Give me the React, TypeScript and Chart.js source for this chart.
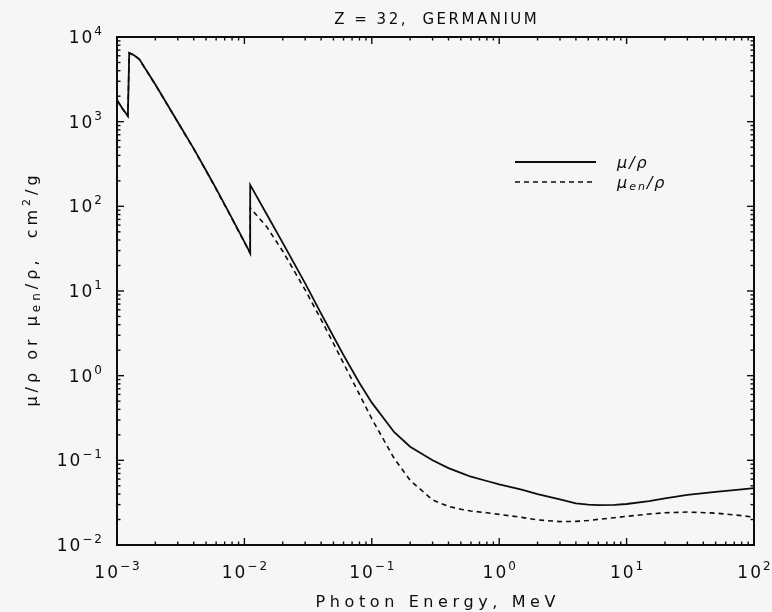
import React, { useEffect, useRef } from "react";
import { Chart, registerables } from "chart.js";

Chart.register(...registerables);

// ---- data ----
const energyMu = [
  1.0e-3, 1.1e-3, 1.2167e-3, 1.2478e-3, 1.33e-3, 1.4143e-3, 1.5e-3, 2.0e-3, 3.0e-3, 4.0e-3, 5.0e-3, 6.0e-3,
  8.0e-3, 1.0e-2, 1.1103e-2, 1.1103e-2, 1.5e-2, 2.0e-2, 3.0e-2, 4.0e-2, 5.0e-2, 6.0e-2, 8.0e-2, 0.1, 0.15,
  0.2, 0.3, 0.4, 0.5, 0.6, 0.8, 1.0, 1.5, 2.0, 3.0, 4.0, 5.0, 6.0, 8.0, 10, 15, 20, 30, 50, 80, 100,
];
const muRho = [
  1800, 1440, 1166, 6500, 6200, 5850, 5450, 2750, 990, 480, 265, 162,
  72, 38, 28, 179, 80, 37, 12.3, 5.4, 2.9, 1.75, 0.82, 0.48, 0.215,
  0.145, 0.1, 0.081, 0.071, 0.064, 0.057, 0.052, 0.045, 0.04, 0.0345, 0.031, 0.03, 0.0296, 0.0297, 0.0305,
  0.033, 0.0355, 0.039, 0.0425, 0.0455, 0.047,
];
const energyEn = [
  1.0e-3, 1.1e-3, 1.2167e-3, 1.2478e-3, 1.33e-3, 1.4143e-3, 1.5e-3, 2.0e-3, 3.0e-3, 4.0e-3, 5.0e-3, 6.0e-3,
  8.0e-3, 1.0e-2, 1.1103e-2, 1.1103e-2, 1.5e-2, 2.0e-2, 3.0e-2, 4.0e-2, 5.0e-2, 6.0e-2, 8.0e-2, 0.1, 0.15,
  0.2, 0.3, 0.4, 0.5, 0.6, 0.8, 1.0, 1.5, 2.0, 3.0, 4.0, 5.0, 6.0, 8.0, 10, 15, 20, 30, 50, 80, 100,
];
const muEnRho = [
  1790, 1432, 1160, 6460, 6170, 5820, 5420, 2735, 984, 477, 263, 160,
  71, 37.6, 27.8, 96, 57, 29.5, 10.3, 4.6, 2.4, 1.4, 0.6, 0.31, 0.105,
  0.058, 0.034, 0.0285, 0.0265, 0.0252, 0.024, 0.023, 0.0212, 0.0198, 0.0189, 0.019, 0.0195, 0.0201, 0.021,
  0.0218, 0.0232, 0.024, 0.0245, 0.0238, 0.0222, 0.0213,
];
// tick labels: base "10" with these exponents (superscript)
const xTickExps = [-3, -2, -1, 0, 1, 2];
const yTickExps = [-2, -1, 0, 1, 2, 3, 4];
const chartTitle = "Z = 32,  GERMANIUM";
const xAxisTitle = "Photon Energy, MeV";
const seriesNames = ["μ/ρ", "μen/ρ"];

const FONT = "'DejaVu Sans', sans-serif";
const INK = "#0d0d0d";

type Seg = { t: string; s: number; dy?: number; italic?: boolean };

function drawSegs(
  ctx: CanvasRenderingContext2D,
  segs: Seg[],
  x: number,
  y: number,
  align: "left" | "center" | "right",
  spacing: number
) {
  ctx.textBaseline = "alphabetic";
  ctx.textAlign = "left";
  (ctx as any).letterSpacing = spacing + "px";
  const widths = segs.map((sg) => {
    ctx.font = `${sg.italic ? "italic " : ""}${sg.s}px ${FONT}`;
    return ctx.measureText(sg.t).width;
  });
  const total = widths.reduce((a, b) => a + b, 0) - spacing;
  let cx = align === "center" ? x - total / 2 : align === "right" ? x - total : x;
  segs.forEach((sg, i) => {
    ctx.font = `${sg.italic ? "italic " : ""}${sg.s}px ${FONT}`;
    ctx.fillText(sg.t, cx, y + (sg.dy || 0));
    cx += widths[i];
  });
  (ctx as any).letterSpacing = "0px";
}

function expSegs(e: number): Seg[] {
  const t = e < 0 ? "−" + Math.abs(e) : String(e);
  return [
    { t: "10", s: 17 },
    { t, s: 12, dy: -8 },
  ];
}

const decorPlugin = {
  id: "decor",
  beforeDraw(chart: any) {
    const { ctx, width, height } = chart;
    ctx.save();
    ctx.fillStyle = "#f6f6f6";
    ctx.fillRect(0, 0, width, height);
    ctx.restore();
  },
  afterDraw(chart: any) {
    const { ctx } = chart;
    const { left, right, top, bottom } = chart.chartArea;
    const xs = chart.scales.x;
    const ys = chart.scales.y;
    ctx.save();
    ctx.strokeStyle = INK;
    ctx.lineWidth = 2;
    ctx.strokeRect(left, top, right - left, bottom - top);
    ctx.lineWidth = 1.4;
    const seg = (a: number, b: number, c: number, d: number) => {
      ctx.beginPath();
      ctx.moveTo(a, b);
      ctx.lineTo(c, d);
      ctx.stroke();
    };
    for (let e = -3; e <= 2; e++) {
      for (let m = 1; m <= 9; m++) {
        const v = m * Math.pow(10, e);
        if (v > 100.0001) break;
        const px = xs.getPixelForValue(v);
        const len = m === 1 ? 7 : 3.5;
        seg(px, bottom, px, bottom - len);
        seg(px, top, px, top + len);
      }
    }
    for (let e = -2; e <= 4; e++) {
      for (let m = 1; m <= 9; m++) {
        const v = m * Math.pow(10, e);
        if (v > 10000.001) break;
        const py = ys.getPixelForValue(v);
        const len = m === 1 ? 7 : 3.5;
        seg(left, py, left + len, py);
        seg(right, py, right - len, py);
      }
    }

    ctx.fillStyle = INK;
    // tick labels, placed with the scales
    xTickExps.forEach((e) => {
      const px = xs.getPixelForValue(Math.pow(10, e));
      drawSegs(ctx, expSegs(e), px, bottom + 33, "center", 2);
    });
    yTickExps.forEach((e) => {
      const py = ys.getPixelForValue(Math.pow(10, e));
      drawSegs(ctx, expSegs(e), left - 15, py + 6, "right", 2);
    });

    const cxPlot = (left + right) / 2;
    // title
    drawSegs(ctx, [{ t: chartTitle, s: 15 }], cxPlot, 24, "center", 2.5);
    // x axis title
    drawSegs(ctx, [{ t: xAxisTitle, s: 16 }], cxPlot, 607, "center", 4.6);
    // y axis title (rotated)
    ctx.save();
    ctx.translate(31, (top + bottom) / 2);
    ctx.rotate(-Math.PI / 2);
    drawSegs(
      ctx,
      [
        { t: "μ/ρ or μ", s: 16 },
        { t: "en", s: 12, dy: 3 },
        { t: "/ρ,  cm", s: 16 },
        { t: "2", s: 11, dy: -7 },
        { t: "/g", s: 16 },
      ],
      0,
      6,
      "center",
      4
    );
    ctx.restore();

    // legend
    const lx0 = 515, lx1 = 596, tx = 617;
    const rows = [162, 182];
    chart.data.datasets.forEach((ds: any, i: number) => {
      ctx.save();
      ctx.strokeStyle = ds.borderColor;
      ctx.lineWidth = ds.borderWidth;
      ctx.setLineDash(ds.borderDash || []);
      seg(lx0, rows[i], lx1, rows[i]);
      ctx.restore();
    });
    drawSegs(ctx, [{ t: seriesNames[0], s: 16, italic: true }], tx, rows[0] + 6, "left", 2);
    drawSegs(
      ctx,
      [
        { t: "μ", s: 16, italic: true },
        { t: "en", s: 11, dy: 2, italic: true },
        { t: "/ρ", s: 16, italic: true },
      ],
      tx,
      rows[1] + 6,
      "left",
      2
    );
    ctx.restore();
  },
};

export default function App() {
  const ref = useRef<HTMLCanvasElement>(null);
  useEffect(() => {
    if (!ref.current) return;
    document.body.style.margin = "0";
    document.body.style.background = "#f6f6f6";
    const chart = new Chart(ref.current, {
      type: "line",
      data: {
        datasets: [
          {
            label: seriesNames[0],
            data: energyMu.map((e, i) => ({ x: e, y: muRho[i] })),
            borderColor: INK,
            borderWidth: 1.8,
            pointRadius: 0,
            tension: 0,
            fill: false,
          },
          {
            label: seriesNames[1],
            data: energyEn.map((e, i) => ({ x: e, y: muEnRho[i] })),
            borderColor: INK,
            borderWidth: 1.6,
            borderDash: [5, 4],
            pointRadius: 0,
            tension: 0,
            fill: false,
          },
        ],
      },
      options: {
        animation: false,
        responsive: false,
        maintainAspectRatio: false,
        events: [],
        layout: { padding: { top: 37, right: 18, left: 0, bottom: 0 } },
        plugins: {
          legend: { display: false },
          title: { display: false },
          tooltip: { enabled: false },
        },
        scales: {
          x: {
            type: "logarithmic",
            min: 1e-3,
            max: 1e2,
            grid: { display: false, drawTicks: false },
            border: { display: false },
            ticks: { display: false },
            afterFit: (s: any) => {
              s.height = 67;
            },
          },
          y: {
            type: "logarithmic",
            min: 1e-2,
            max: 1e4,
            grid: { display: false, drawTicks: false },
            border: { display: false },
            ticks: { display: false },
            afterFit: (s: any) => {
              s.width = 117;
            },
          },
        },
      } as any,
      plugins: [decorPlugin],
    });
    return () => chart.destroy();
  }, []);
  return (
    <div style={{ position: "fixed", left: 0, top: 0, width: 772, height: 612, background: "#f6f6f6" }}>
      <canvas ref={ref} width={772} height={612} style={{ width: 772, height: 612, display: "block" }} />
    </div>
  );
}
